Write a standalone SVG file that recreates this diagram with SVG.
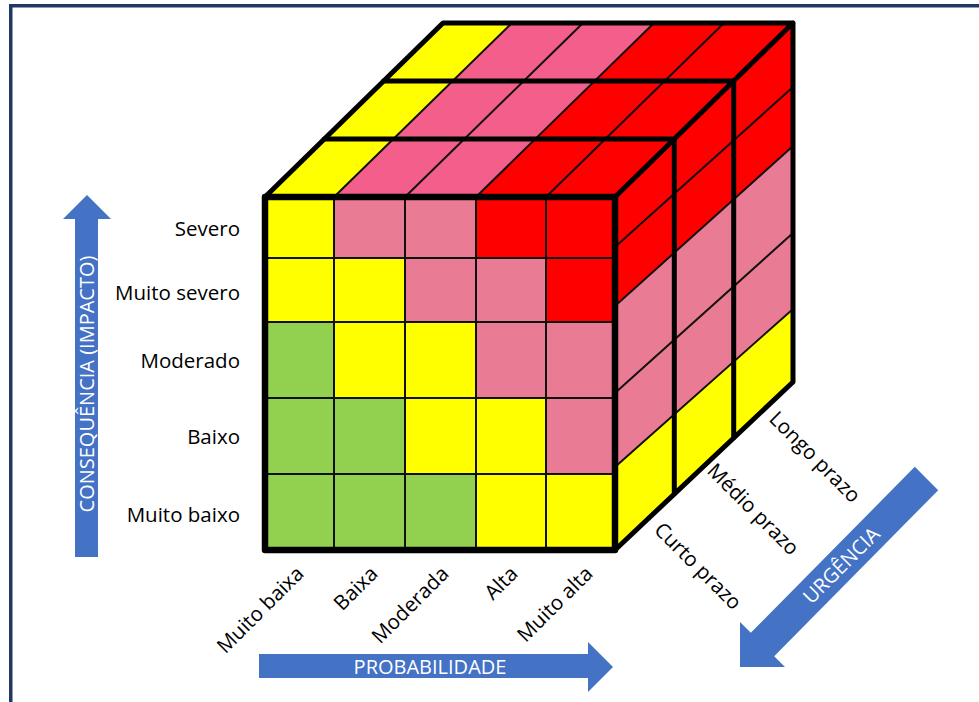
<svg xmlns="http://www.w3.org/2000/svg" width="979" height="702" viewBox="0 0 979 702">
  <style>
    .y{fill:#FFFF00}.g{fill:#92D050}.p{fill:#EA7B95}.pt{fill:#F35E8B}.r{fill:#FF0000}
    .thin{stroke:#111;stroke-width:2;fill:none;stroke-linecap:round}
    .thick{stroke:#000;stroke-width:5;fill:none;stroke-linecap:round;stroke-linejoin:round}
    .lbl{font-family:"Open Sans","Liberation Sans",sans-serif;font-size:20.5px;fill:#000}
    .atx{font-family:"Open Sans","Liberation Sans",sans-serif;font-size:20px;fill:#fff}
    .arr{fill:#4472C4}
  </style>
  <rect x="0" y="0" width="979" height="702" fill="#fff"/>
  <g id="frame">
    <rect x="9" y="4" width="970" height="3.5" fill="#1F3864"/>
    <rect x="9" y="4" width="3.5" height="698" fill="#1F3864"/>
  </g>

  <g id="top-face">
    <polygon class="y" points="265,197 334,197 512,23 443,23"/>
    <polygon class="pt" points="334,197 405,197 583,23 512,23"/>
    <polygon class="pt" points="405,197 476,197 654,23 583,23"/>
    <polygon class="r" points="476,197 546,197 724,23 654,23"/>
    <polygon class="r" points="546,197 615,197 793,23 724,23"/>
    <path class="thin" d="M334,197 L512,23 M405,197 L583,23 M476,197 L654,23 M546,197 L724,23"/>
  </g>

  <g id="right-face">
    <polygon class="r" points="615,197 793,23 793,87 615,247"/>
    <polygon class="r" points="615,247 793,87 793,146 615,306"/>
    <polygon class="p" points="615,306 793,146 793,233 615,393"/>
    <polygon class="p" points="615,393 793,233 793,309 615,467"/>
    <polygon class="y" points="615,467 793,309 793,382 615,550"/>
    <path class="thin" d="M615,247 L793,87 M615,306 L793,146 M615,393 L793,233 M615,467 L793,309"/>
  </g>

  <g id="front-face">
    <rect class="y" x="265" y="197" width="69" height="61"/>
    <rect class="p" x="334" y="197" width="71" height="61"/>
    <rect class="p" x="405" y="197" width="71" height="61"/>
    <rect class="r" x="476" y="197" width="70" height="61"/>
    <rect class="r" x="546" y="197" width="69" height="61"/>

    <rect class="y" x="265" y="258" width="69" height="64"/>
    <rect class="y" x="334" y="258" width="71" height="64"/>
    <rect class="p" x="405" y="258" width="71" height="64"/>
    <rect class="p" x="476" y="258" width="70" height="64"/>
    <rect class="r" x="546" y="258" width="69" height="64"/>

    <rect class="g" x="265" y="322" width="69" height="76"/>
    <rect class="y" x="334" y="322" width="71" height="76"/>
    <rect class="y" x="405" y="322" width="71" height="76"/>
    <rect class="p" x="476" y="322" width="70" height="76"/>
    <rect class="p" x="546" y="322" width="69" height="76"/>

    <rect class="g" x="265" y="398" width="69" height="76"/>
    <rect class="g" x="334" y="398" width="71" height="76"/>
    <rect class="y" x="405" y="398" width="71" height="76"/>
    <rect class="y" x="476" y="398" width="70" height="76"/>
    <rect class="p" x="546" y="398" width="69" height="76"/>

    <rect class="g" x="265" y="474" width="69" height="76"/>
    <rect class="g" x="334" y="474" width="71" height="76"/>
    <rect class="g" x="405" y="474" width="71" height="76"/>
    <rect class="y" x="476" y="474" width="70" height="76"/>
    <rect class="y" x="546" y="474" width="69" height="76"/>

    <path class="thin" d="M334,197 V550 M405,197 V550 M476,197 V550 M546,197 V550 M265,258 H615 M265,322 H615 M265,398 H615 M265,474 H615"/>
  </g>

  <g id="cube-edges">
    <path class="thick" d="M324.3,139 H674.3 M383.7,81 H733.7"/>
    <path class="thick" d="M265,197 L443,23 H793 V382 L615,550 M615,197 L793,23 M674.3,139 V494 M733.7,81 V438"/>
    <rect x="265" y="197" width="350" height="353" fill="none" stroke="#000" stroke-width="6.5" stroke-linejoin="round"/>
  </g>

  <g id="impact-labels" class="lbl" text-anchor="end">
    <text x="240" y="236">Severo</text>
    <text x="240" y="300">Muito severo</text>
    <text x="240" y="368">Moderado</text>
    <text x="240" y="444">Baixo</text>
    <text x="240" y="522">Muito baixo</text>
  </g>

  <g id="probability-labels" class="lbl" text-anchor="end">
    <text transform="translate(305,575) rotate(-45)">Muito baixa</text>
    <text transform="translate(379,575) rotate(-45)">Baixa</text>
    <text transform="translate(450,575) rotate(-45)">Moderada</text>
    <text transform="translate(519,575) rotate(-45)">Alta</text>
    <text transform="translate(594,575) rotate(-45)">Muito alta</text>
  </g>

  <g id="urgency-labels" class="lbl">
    <text transform="translate(653,531) rotate(45)">Curto prazo</text>
    <text transform="translate(706,472) rotate(45)">Médio prazo</text>
    <text transform="translate(768,420) rotate(45)">Longo prazo</text>
  </g>

  <g id="impact-arrow">
    <polygon class="arr" points="75,557 98,557 98,219 111,219 87,195 63,219 75,219"/>
    <text class="atx" transform="translate(86.5,384) rotate(-90)" text-anchor="middle" dominant-baseline="central">CONSEQUÊNCIA (IMPACTO)</text>
  </g>

  <g id="probability-arrow">
    <polygon class="arr" points="259,654 588,654 588,642 613,667 588,692 588,678 259,678"/>
    <text class="atx" x="430" y="666" text-anchor="middle" dominant-baseline="central">PROBABILIDADE</text>
  </g>

  <g id="urgency-arrow">
    <polygon class="arr" points="914.8,466.8 938.2,490.2 774.2,656.2 785,667 740,667 740,622 750.8,632.8"/>
    <text class="atx" transform="translate(841,565) rotate(-45)" text-anchor="middle" dominant-baseline="central">URGÊNCIA</text>
  </g>
</svg>
